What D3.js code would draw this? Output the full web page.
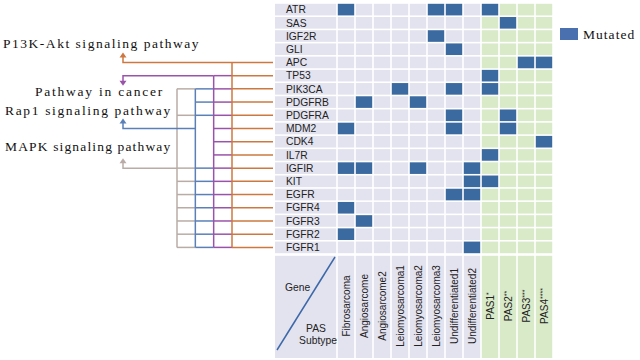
<!DOCTYPE html>
<html>
<head>
<meta charset="utf-8">
<script src="https://cdn.jsdelivr.net/npm/d3@7"></script>
<style>
  body { margin: 0; background: #fff; }
  svg { display: block; }
</style>
</head>
<body>
<svg id="chart" width="640" height="360"></svg>
<script>
// --------------------------
// DATA
// --------------------------
const genes = ["ATR", "SAS", "IGF2R", "GLI", "APC", "TP53", "PIK3CA", "PDGFRB", "PDGFRA",
    "MDM2", "CDK4", "IL7R", "IGFIR", "KIT", "EGFR", "FGFR4", "FGFR3", "FGFR2", "FGFR1"];

const subtypes = ["Fibrosarcoma", "Angiosarcome", "Angiosarcome2", "Leiomyosarcoma1",
    "Leiomyosarcoma2", "Leiomyosarcoma3", "Undifferentiated1", "Undifferentiated2",
    "PAS1", "PAS2", "PAS3", "PAS4"];
const subtypeStars = [0, 0, 0, 0, 0, 0, 0, 0, 1, 2, 3, 4];
const pasSubtypes = ["PAS1", "PAS2", "PAS3", "PAS4"];

// [gene, subtype] pairs that are mutated
const mutations = [
    ["ATR", "Fibrosarcoma"], ["ATR", "Leiomyosarcoma3"], ["ATR", "Undifferentiated1"], ["ATR", "PAS1"],
    ["SAS", "PAS2"],
    ["IGF2R", "Leiomyosarcoma3"],
    ["GLI", "Undifferentiated1"],
    ["APC", "PAS3"], ["APC", "PAS4"],
    ["TP53", "PAS1"],
    ["PIK3CA", "Leiomyosarcoma1"], ["PIK3CA", "Undifferentiated1"], ["PIK3CA", "PAS1"],
    ["PDGFRB", "Angiosarcome"], ["PDGFRB", "Leiomyosarcoma2"],
    ["PDGFRA", "Undifferentiated1"], ["PDGFRA", "PAS2"],
    ["MDM2", "Fibrosarcoma"], ["MDM2", "Undifferentiated1"], ["MDM2", "PAS2"],
    ["CDK4", "PAS4"],
    ["IL7R", "PAS1"],
    ["IGFIR", "Fibrosarcoma"], ["IGFIR", "Angiosarcome"], ["IGFIR", "Leiomyosarcoma2"], ["IGFIR", "Undifferentiated2"],
    ["KIT", "Undifferentiated2"], ["KIT", "PAS1"],
    ["EGFR", "Undifferentiated1"], ["EGFR", "Undifferentiated2"],
    ["FGFR4", "Fibrosarcoma"],
    ["FGFR3", "Angiosarcome"],
    ["FGFR2", "Fibrosarcoma"],
    ["FGFR1", "Undifferentiated2"]
];

// pathways, ordered from the left-most connector to the right-most
const pathways = ["MAPK signaling pathway", "Rap1 signaling pathway", "Pathway in cancer", "P13K-Akt signaling pathway"];
const pathwayGenes = [
    ["PIK3CA", "PDGFRA", "IGFIR", "KIT", "EGFR", "FGFR4", "FGFR3", "FGFR2", "FGFR1"],
    ["PIK3CA", "PDGFRB", "PDGFRA", "IGFIR", "KIT", "EGFR", "FGFR4", "FGFR3", "FGFR2", "FGFR1"],
    ["TP53", "PIK3CA", "PDGFRB", "PDGFRA", "MDM2", "CDK4", "IL7R", "IGFIR", "KIT", "EGFR", "FGFR4", "FGFR3", "FGFR2", "FGFR1"],
    ["APC", "TP53", "PIK3CA", "PDGFRB", "PDGFRA", "MDM2", "CDK4", "IL7R", "IGFIR", "KIT", "EGFR", "FGFR4", "FGFR3", "FGFR2", "FGFR1"]
];
const arrowGene = ["IGFIR", "MDM2", "TP53", "APC"];
const arrowDir = [-1, -1, 1, -1]; // -1 up, 1 down

// --------------------------
// STYLE / LAYOUT
// --------------------------
const pathColor = ["#b9aca6", "#5b80b8", "#9a53aa", "#cd7840"];
const blue = "#3b6aa0";
const lavender = "#e3e3ef";
const green = "#d9eac9";
const labelFont = "'Liberation Serif', 'DejaVu Serif', serif";
const sansFont = "'Liberation Sans', Arial, sans-serif";
const charW = 7.6; // the labels are set as a fixed-pitch face

const svg = d3.select("#chart");

const gridLeft = 275;
const x = d3.scaleBand().domain(subtypes).range([337, 553]);
const y = d3.scaleBand().domain(genes).range([3, 254]);
const px = d3.scalePoint().domain(pathways).range([177, 232]);
const headerTop = 255, headerBottom = 358;
const arrowX = 123;
const gap = 0.8;

const isMut = new Set(mutations.map(d => d[0] + "|" + d[1]));
const rowMid = g => y(g) + y.bandwidth() / 2;

// --------------------------
// GRID
// --------------------------
const grid = svg.append("g");

// gene label cells
grid.selectAll("rect.label")
    .data(genes)
    .enter().append("rect")
    .attr("x", gridLeft)
    .attr("y", d => y(d) + gap)
    .attr("width", x(subtypes[0]) - gridLeft - gap)
    .attr("height", y.bandwidth() - 2 * gap)
    .attr("fill", lavender);

grid.selectAll("text.gene")
    .data(genes)
    .enter().append("text")
    .attr("x", 286)
    .attr("y", d => rowMid(d))
    .attr("dy", "0.36em")
    .attr("font-family", sansFont)
    .attr("font-size", 10.3)
    .attr("fill", "#222")
    .text(d => d);

const cells = genes.flatMap(g => subtypes.map(s => ({ g, s })));
grid.selectAll("rect.cell")
    .data(cells)
    .enter().append("rect")
    .attr("x", d => x(d.s) + gap)
    .attr("y", d => y(d.g) + gap)
    .attr("width", x.bandwidth() - 2 * gap)
    .attr("height", y.bandwidth() - 2 * gap)
    .attr("fill", d => isMut.has(d.g + "|" + d.s) ? blue : (pasSubtypes.includes(d.s) ? green : lavender));

// --------------------------
// HEADER
// --------------------------
const header = svg.append("g");
header.append("rect")
    .attr("x", gridLeft)
    .attr("y", headerTop + gap)
    .attr("width", x(subtypes[0]) - gridLeft - gap)
    .attr("height", headerBottom - headerTop - gap)
    .attr("fill", lavender);

header.selectAll("rect.col")
    .data(subtypes)
    .enter().append("rect")
    .attr("x", d => x(d) + gap)
    .attr("y", headerTop + gap)
    .attr("width", x.bandwidth() - 2 * gap)
    .attr("height", headerBottom - headerTop - gap)
    .attr("fill", d => pasSubtypes.includes(d) ? green : lavender);

header.append("line")
    .attr("x1", 277).attr("y1", 350)
    .attr("x2", 335).attr("y2", 257)
    .attr("stroke", "#3d68a8")
    .attr("stroke-width", 1.5);

header.append("text")
    .attr("x", 285).attr("y", 291)
    .attr("font-family", sansFont).attr("font-size", 10.3).attr("fill", "#222")
    .text("Gene");
header.append("text")
    .attr("x", 316).attr("y", 332)
    .attr("text-anchor", "middle")
    .attr("font-family", sansFont).attr("font-size", 10.3).attr("fill", "#222")
    .text("PAS");
header.append("text")
    .attr("x", 318).attr("y", 344)
    .attr("text-anchor", "middle")
    .attr("font-family", sansFont).attr("font-size", 10.3).attr("fill", "#222")
    .text("Subtype");

const colLabel = header.selectAll("text.col")
    .data(subtypes)
    .enter().append("text")
    .attr("transform", d => `translate(${x(d) + x.bandwidth() / 2 + 0.5},306) rotate(-90)`)
    .attr("text-anchor", "middle")
    .attr("dy", "0.36em")
    .attr("font-family", sansFont)
    .attr("font-size", 10)
    .attr("fill", "#222");
colLabel.append("tspan").text(d => d);
colLabel.append("tspan")
    .attr("dy", -3)
    .attr("font-size", 7)
    .text((d, i) => "*".repeat(subtypeStars[i]));

// --------------------------
// PATHWAY CONNECTORS
// --------------------------
const links = svg.append("g").attr("fill", "none").attr("stroke-width", 1.5);

// row lines, each segment coloured by the connector on its left
genes.forEach(g => {
    const idx = pathways.map((p, i) => i).filter(i => pathwayGenes[i].includes(g));
    idx.forEach((pi, k) => {
        const x1 = px(pathways[pi]);
        const x2 = k < idx.length - 1 ? px(pathways[idx[k + 1]]) : gridLeft - 2;
        links.append("line")
            .attr("x1", x1).attr("x2", x2)
            .attr("y1", rowMid(g)).attr("y2", rowMid(g))
            .attr("stroke", pathColor[pi]);
    });
});

// vertical connectors
pathways.forEach((p, i) => {
    const ys = pathwayGenes[i].map(rowMid);
    links.append("line")
        .attr("x1", px(p)).attr("x2", px(p))
        .attr("y1", d3.min(ys)).attr("y2", d3.max(ys))
        .attr("stroke", pathColor[i]);
});

// arrows to the pathway labels
pathways.forEach((p, i) => {
    const ya = rowMid(arrowGene[i]);
    const tip = ya + arrowDir[i] * 10;
    links.append("path")
        .attr("d", `M${px(p)},${ya}H${arrowX}V${tip - arrowDir[i] * 3}`)
        .attr("stroke", pathColor[i]);
    svg.append("path")
        .attr("d", `M${arrowX},${tip}L${arrowX - 3.5},${tip - arrowDir[i] * 5}L${arrowX + 3.5},${tip - arrowDir[i] * 5}Z`)
        .attr("fill", pathColor[i]);
});

// pathway labels
const labelPos = [[5, 151], [5, 115], [35, 96], [3, 48]];
svg.append("g")
    .selectAll("text")
    .data(pathways)
    .enter().append("text")
    .attr("x", (d, i) => labelPos[i][0])
    .attr("y", (d, i) => labelPos[i][1])
    .attr("font-family", labelFont)
    .attr("font-size", 13.5)
    .attr("textLength", d => d.length * charW - 2)
    .attr("lengthAdjust", "spacing")
    .attr("fill", "#111")
    .text(d => d);

// --------------------------
// LEGEND
// --------------------------
const legend = svg.append("g").attr("transform", "translate(560,28)");
legend.append("rect")
    .attr("width", 18).attr("height", 12)
    .attr("fill", "#4a70b0");
legend.append("text")
    .attr("x", 23).attr("y", 10.5)
    .attr("font-family", labelFont)
    .attr("font-size", 13.5)
    .attr("textLength", 7 * charW - 2)
    .attr("lengthAdjust", "spacing")
    .attr("fill", "#111")
    .text("Mutated");
</script>
</body>
</html>
